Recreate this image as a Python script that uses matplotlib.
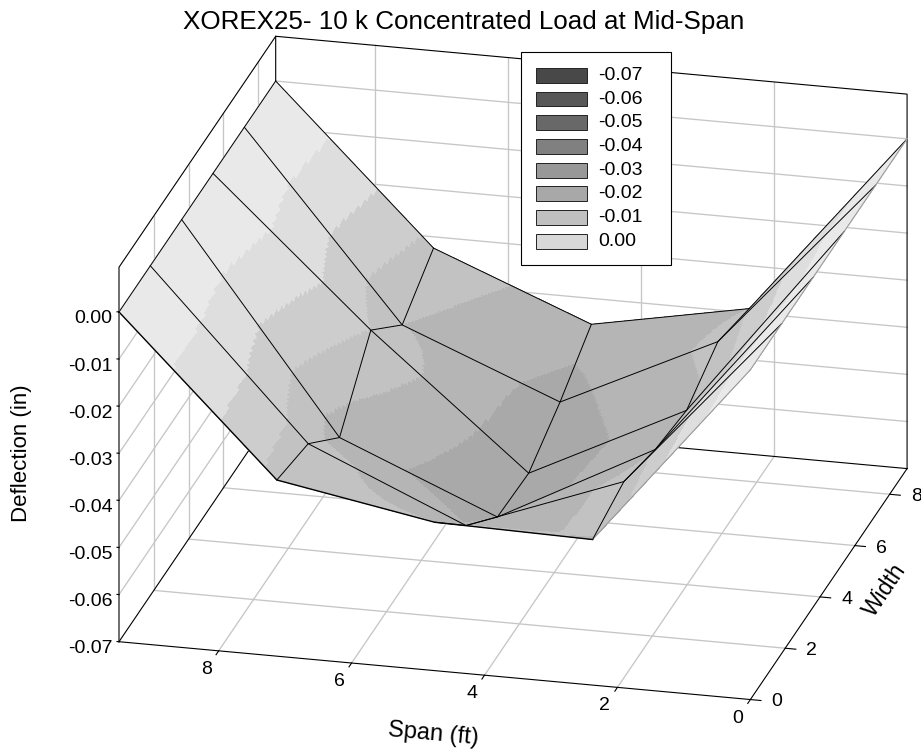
import numpy as np
import matplotlib
matplotlib.use('Agg')
import matplotlib.pyplot as plt
from matplotlib.patches import Rectangle
from mpl_toolkits.mplot3d import proj3d

plt.rcParams['font.family'] = ['Liberation Sans', 'DejaVu Sans']

# Values
span = np.array([0, 2.375, 4.75, 7.125, 9.5])
width = np.array([0, 1.8, 3.6, 5.4, 7.2, 9.0])
defl_w0 = [0, -0.0391, -0.0385, -0.0326, 0]
defl_w1 = [0, -0.0366, -0.0490, -0.0347, 0]
defl_w2 = [0, -0.0396, -0.0570, -0.0432, 0]
defl_w3 = [0, -0.0411, -0.0575, -0.0302, 0]
defl_w4 = [0, -0.0363, -0.0522, -0.0389, 0]
defl_w5 = [0, -0.0391, -0.0455, -0.0324, 0]
defl = np.array([defl_w0, defl_w1, defl_w2, defl_w3, defl_w4, defl_w5])

span_ticks = [2, 4, 6, 8]
span_labels = ['0', '2', '4', '6', '8']
width_ticks = [0, 2, 4, 6, 8]
z_ticks = [-0.07, -0.06, -0.05, -0.04, -0.03, -0.02, -0.01, 0.00]
z_labels = ['-0.07', '-0.06', '-0.05', '-0.04', '-0.03', '-0.02', '-0.01', '0.00']

legend_colors = ['#484848', '#585858', '#686868', '#808080',
                 '#989898', '#A8A8A8', '#C0C0C0', '#D8D8D8']
band_edges = [-0.06, -0.049, -0.039, -0.03, -0.021, -0.011, 0.01]
band_colors = ['#A9A9A9', '#B5B5B5', '#C2C2C2', '#CDCDCD', '#DEDEDE', '#E9E9E9']

x0, x1 = 0, 9.5
y0, y1 = 0, 9.0
z0, z1 = -0.07, 0.0095
W, H = 921, 752

fig = plt.figure(figsize=(W/100, H/100), dpi=100)
ax = fig.add_axes([100/W, 0, 700/W, 700/H], projection='3d', proj_type='ortho')
ax.view_init(elev=21.56, azim=-76)
ax.set_box_aspect((651.6, 648.6, 403.2))
ax.set_xlim(x1, x0, view_margin=0)
ax.set_ylim(y0, y1, view_margin=0)
ax.set_zlim(z0, z1, view_margin=0)
ax.set_xticks([])
ax.set_yticks([])
ax.set_zticks([])
ax.set_axis_off()
ax.computed_zorder = False
ax.patch.set_alpha(0)


def to_px(x, y, z):
    X, Y, _ = proj3d.proj_transform(x, y, z, ax.get_proj())
    return ax.transData.transform((X, Y))


def label_at(x, y, z, s, **kw):
    px = to_px(x, y, z)
    fig.text(px[0]/W, px[1]/H, s, fontsize=14, va='center', **kw)


# Move the axes so the floor corners land where they are in the picture
ax.apply_aspect()
d = np.linalg.norm(to_px(x1, y0, z0) - to_px(x0, y0, z0))
side = 700*np.hypot(631.5, 56.5)/d
ax.set_position([100/W, 0, side/W, side/H])
ax.apply_aspect()
p = to_px(x1, y0, z0)
ax.set_position([(100 + 119 - p[0])/W, (H - 641.7 - p[1])/H, side/W, side/H])
ax.apply_aspect()

# Box walls and floor grid
grid = dict(color='#C6C6C6', lw=0.95, zorder=1)
for s in span_ticks:
    ax.plot([s, s], [y0, y1], [z0, z0], **grid)
    ax.plot([s, s], [y1, y1], [z0, z1], **grid)
for w in width_ticks[1:]:
    ax.plot([x0, x1], [w, w], [z0, z0], **grid)
    ax.plot([x1, x1], [w, w], [z0, z1], **grid)
for z in z_ticks[1:]:
    ax.plot([x0, x1], [y1, y1], [z, z], **grid)
    ax.plot([x1, x1], [y0, y1], [z, z], **grid)

box = dict(color='k', lw=0.8, zorder=1.5)
ax.plot([x1, x0, x0], [y0, y0, y1], [z0, z0, z0], **box)
ax.plot([x1, x1, x0], [y0, y1, y1], [z0, z0, z0], **box)
ax.plot([x1, x1, x1], [y0, y0, y1], [z0, z1, z1], **box)
ax.plot([x1, x1, x0, x0], [y1, y1, y1, y1], [z0, z1, z1, z0], **box)

# Surface, split in fine quads so the grey bands follow the deflection
k = 64
si = np.linspace(0, len(span) - 1, (len(span) - 1)*k + 1)
wi = np.linspace(0, len(width) - 1, (len(width) - 1)*k + 1)
fx = np.interp(si, np.arange(len(span)), span)
fy = np.interp(wi, np.arange(len(width)), width)
fz = np.array([np.interp(si, np.arange(len(span)), r) for r in defl])
fz = np.array([np.interp(wi, np.arange(len(width)), c) for c in fz.T]).T
X, Y = np.meshgrid(fx, fy)
mid = (fz[:-1, :-1] + fz[1:, :-1] + fz[:-1, 1:] + fz[1:, 1:])/4
idx = np.clip(np.searchsorted(band_edges, mid), 1, len(band_colors)) - 1
rgba = np.array([matplotlib.colors.to_rgba(c) for c in band_colors])[idx]
ax.plot_surface(X, Y, fz, facecolors=rgba, rstride=1, cstride=1, shade=False,
                linewidth=0, antialiased=False, zorder=2)

# Mesh lines, the outer edge at Span 0 is seen side on and stays grey
for i in range(1, len(width)):
    ax.plot(span, np.full(len(span), width[i]), defl[i], color='k', lw=0.7, zorder=3)
ax.plot(span[1:], np.full(len(span) - 1, width[0]), defl[0, 1:], color='k', lw=1.0, zorder=3)
ax.plot(span[:2], np.full(2, width[0]), defl[0, :2], color='#999999', lw=0.8, zorder=3)
ax.plot(np.full(len(width), span[0]), width, defl[:, 0], color='#999999', lw=0.8, zorder=3)
for j in range(1, len(span)):
    ax.plot(np.full(len(width), span[j]), width, defl[:, j], color='k', lw=0.7, zorder=3)

# Ticks
tick = dict(color='k', lw=0.8, zorder=1.5)
for s, lab in zip([0] + span_ticks, span_labels):
    ax.plot([s, s], [y0, y0 - 0.15], [z0, z0], **tick)
    label_at(s, y0 - 0.72, z0, lab, ha='center')
for w in width_ticks:
    ax.plot([x0, x0 - 0.16], [w, w], [z0, z0], **tick)
    label_at(x0 - 0.4, w, z0, str(w), ha='center')
for z, lab in zip(z_ticks, z_labels):
    ax.plot([x1, x1 + 0.03], [y0, y0], [z, z], **tick)
    label_at(x1 + 0.1, y0, z - 0.0016, lab, ha='right')

# Titles
fig.text(464/W, 1 - 22/H, 'XOREX25- 10 k Concentrated Load at Mid-Span',
         fontsize=18.7, ha='center', va='center')
fig.text(21/W, 1 - 453/H, 'Deflection (in)', fontsize=16, rotation=90, ha='center', va='center')
fig.text(433/W, 1 - 734/H, 'Span (ft)', fontsize=17, rotation=-5.2, ha='center', va='center')
fig.text(885/W, 1 - 590/H, 'Width', fontsize=16.5, rotation=56, ha='center', va='center')


# Legend, box and swatches placed in picture pixels
def px_rect(left, top, right, bottom, **kw):
    fig.add_artist(Rectangle((left/W, 1 - bottom/H), (right - left)/W, (bottom - top)/H,
                             transform=fig.transFigure, **kw))


px_rect(520.7, 51.7, 671, 265, facecolor='w', edgecolor='k', lw=0.8)
for i, (c, lab) in enumerate(zip(legend_colors, z_labels)):
    top = 68 + 23.7*i
    px_rect(536, top, 586.7, top + 14.7, facecolor=c, edgecolor='#222222', lw=0.7)
    fig.text(598/W, 1 - (top + 7.5)/H, lab, fontsize=14, ha='left', va='center')

fig.savefig('out.png', dpi=100)
